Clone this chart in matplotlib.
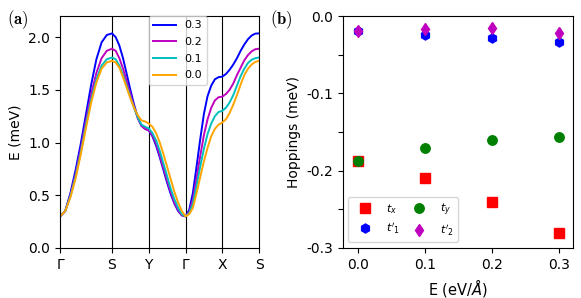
import numpy as np
import matplotlib
matplotlib.use("Agg")
import matplotlib.pyplot as plt

plt.rcParams["axes.unicode_minus"] = False

# ---- (a) band structure along G-S-Y-G-X-S, one list per field value ----
kpath_labels = ["Γ", "S", "Y", "Γ", "X", "S"]
kpath_nodes = [0.0, np.sqrt(2), np.sqrt(2) + 1, np.sqrt(2) + 2, np.sqrt(2) + 3, np.sqrt(2) + 4]
seg_frac = [0.0, 0.1, 0.2, 0.3, 0.4, 0.5, 0.6, 0.7, 0.8, 0.9, 1.0]

field_labels = ["0.3", "0.2", "0.1", "0.0"]
band_colors = ["b", "m", "c", "orange"]

band_03 = [0.30, 0.35, 0.52, 0.74, 0.99, 1.27, 1.55, 1.79, 1.95, 2.02, 2.035,
           2.00, 1.92, 1.80, 1.65, 1.50, 1.36, 1.24, 1.16, 1.13, 1.115,
           1.06, 0.97, 0.86, 0.74, 0.62, 0.51, 0.42, 0.35, 0.31, 0.30,
           0.36, 0.52, 0.77, 1.03, 1.27, 1.44, 1.54, 1.60, 1.62, 1.625,
           1.65, 1.69, 1.74, 1.80, 1.87, 1.93, 1.98, 2.015, 2.033, 2.035]
band_02 = [0.30, 0.35, 0.50, 0.70, 0.94, 1.21, 1.46, 1.66, 1.80, 1.87, 1.89,
           1.87, 1.80, 1.70, 1.58, 1.46, 1.34, 1.23, 1.16, 1.13, 1.115,
           1.07, 0.99, 0.88, 0.76, 0.64, 0.53, 0.43, 0.36, 0.31, 0.30,
           0.34, 0.46, 0.66, 0.87, 1.07, 1.22, 1.33, 1.40, 1.43, 1.435,
           1.46, 1.50, 1.56, 1.64, 1.71, 1.78, 1.83, 1.865, 1.885, 1.89]
band_01 = [0.30, 0.35, 0.49, 0.68, 0.91, 1.17, 1.41, 1.60, 1.73, 1.79, 1.806,
           1.79, 1.73, 1.64, 1.54, 1.43, 1.33, 1.24, 1.17, 1.15, 1.135,
           1.09, 1.02, 0.92, 0.80, 0.68, 0.56, 0.46, 0.38, 0.32, 0.30,
           0.33, 0.42, 0.59, 0.77, 0.94, 1.08, 1.18, 1.25, 1.29, 1.30,
           1.33, 1.38, 1.45, 1.54, 1.63, 1.70, 1.755, 1.785, 1.80, 1.806]
band_00 = [0.30, 0.35, 0.48, 0.66, 0.89, 1.14, 1.38, 1.57, 1.70, 1.76, 1.775,
           1.76, 1.71, 1.62, 1.52, 1.42, 1.33, 1.26, 1.21, 1.20, 1.18,
           1.15, 1.09, 1.00, 0.89, 0.77, 0.65, 0.53, 0.43, 0.35, 0.30,
           0.32, 0.38, 0.52, 0.67, 0.82, 0.95, 1.06, 1.13, 1.17, 1.19,
           1.22, 1.28, 1.36, 1.45, 1.55, 1.64, 1.70, 1.74, 1.765, 1.775]

# ---- (b) hoppings vs field ----
field = [0.0, 0.1, 0.2, 0.3]
t_x = [-0.187, -0.210, -0.240, -0.280]
t_y = [-0.187, -0.171, -0.160, -0.156]
t1p = [-0.020, -0.024, -0.029, -0.033]
t2p = [-0.019, -0.017, -0.016, -0.022]


def kpath_x():
    xs = [kpath_nodes[0]]
    for a, b in zip(kpath_nodes[:-1], kpath_nodes[1:]):
        xs += [a + f * (b - a) for f in seg_frac[1:]]
    return np.array(xs)


def main():
    fig = plt.figure(figsize=(5.81, 2.98), dpi=100)
    ax1 = fig.add_axes([0.1033, 0.1678, 0.3425, 0.7785])
    ax2 = fig.add_axes([0.5898, 0.1678, 0.3959, 0.7785])

    # (a)
    x = kpath_x()
    for xn in kpath_nodes[1:-1]:
        ax1.axvline(xn, color="k", linewidth=0.8)
    for vals, lab, col in zip([band_03, band_02, band_01, band_00], field_labels, band_colors):
        ax1.plot(x, vals, color=col, linewidth=1.4, label=lab)
    ax1.set_xlim(kpath_nodes[0], kpath_nodes[-1])
    ax1.set_ylim(0, 2.2)
    ax1.set_xticks(kpath_nodes)
    ax1.set_xticklabels(kpath_labels)
    ax1.set_yticks([0.0, 0.5, 1.0, 1.5, 2.0])
    ax1.set_ylabel("E (meV)", fontsize=10)
    ax1.tick_params(labelsize=10)
    ax1.legend(loc="upper left", bbox_to_anchor=(0.447, 1.0), borderaxespad=0,
               fontsize=8, handlelength=2.0, labelspacing=0.6)

    # (b)
    h_tx, = ax2.plot(field, t_x, "s", color="red", markersize=6.5, linestyle="none")
    h_ty, = ax2.plot(field, t_y, "o", color="green", markersize=6.8, linestyle="none")
    h_t1, = ax2.plot(field, t1p, "h", color="blue", markersize=6.5, linestyle="none")
    h_t2, = ax2.plot(field, t2p, "d", color="m", markersize=6.5, linestyle="none")
    ax2.set_xlim(-0.023, 0.321)
    ax2.set_ylim(-0.3, 0.0)
    ax2.set_xticks(field)
    ax2.set_xticklabels([f"{v:.1f}" for v in field])
    yt = [-0.3, -0.25, -0.2, -0.15, -0.1, -0.05, 0.0]
    ax2.set_yticks(yt)
    ax2.set_yticklabels([f"{v:.1f}" if i % 2 == 0 else "" for i, v in enumerate(yt)])
    ax2.tick_params(labelsize=10)
    ax2.set_ylabel("Hoppings (meV)", fontsize=10)
    ax2.set_xlabel(r"E (eV/$\AA$)", fontsize=10.5)
    ax2.legend([h_tx, h_t1, h_ty, h_t2], [r"$t_x$", r"$t'_1$", r"$t_y$", r"$t'_2$"],
               ncol=2, loc="lower left", fontsize=8, handlelength=2.2, columnspacing=0.6)

    fig.text(0.012, 0.918, r"$\mathbf{(a)}$", math_fontfamily="cm", fontsize=12, va="baseline")
    fig.text(0.4647, 0.918, r"$\mathbf{(b)}$", math_fontfamily="cm", fontsize=12, va="baseline")

    fig.savefig("out.png", dpi=100)


if __name__ == "__main__":
    main()
